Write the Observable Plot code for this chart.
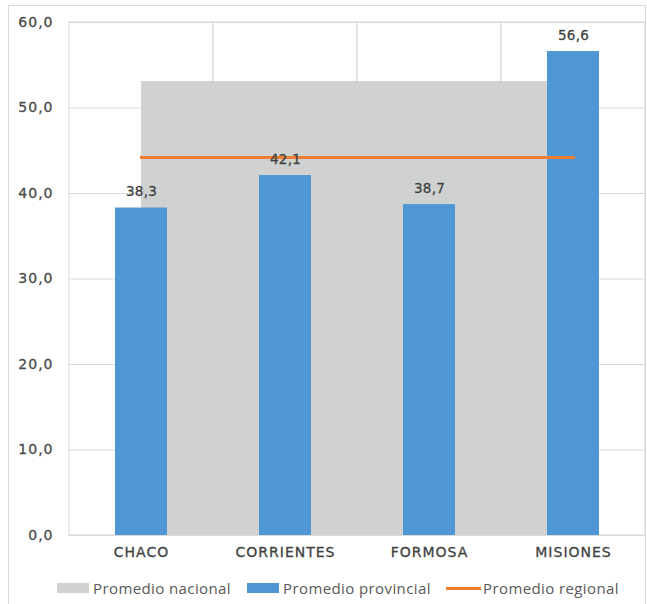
<!DOCTYPE html>
<html>
<head>
<meta charset="utf-8">
<script src="https://cdn.jsdelivr.net/npm/d3@7"></script>
<script src="https://cdn.jsdelivr.net/npm/@observablehq/plot@0.6"></script>
<style>
  body { margin: 0; background: #fff; }
  #wrap { position: relative; width: 647px; height: 604px; overflow: hidden; font-family: "Open Sans", "DejaVu Sans", sans-serif; }
  #frame { position: absolute; left: 8px; top: 5px; width: 638px; height: 620px; border: 1px solid #d9d9d9; box-sizing: border-box; }
  #chart { position: absolute; left: 0; top: 0; }
  #chart svg text { letter-spacing: 1px; stroke: #454545; stroke-width: 0.3px; }
  #chart svg g[aria-label="text"] text { letter-spacing: 0.2px; }
  #legend { position: absolute; left: 0; top: 577px; width: 647px; height: 22px; font-size: 15px; letter-spacing: 0.4px; color: #595959; white-space: nowrap; }
  .item { position: absolute; top: 0; display: flex; align-items: center; height: 22px; }
  .sw { width: 32px; height: 10px; margin-right: 4px; }
  .ln { width: 35px; height: 3px; margin-right: 2px; }
</style>
</head>
<body>
<div id="wrap">
  <div id="frame"></div>
  <div id="chart"></div>
  <div id="legend"></div>
</div>
<script>
const categories = ["CHACO", "CORRIENTES", "FORMOSA", "MISIONES"];
const provincial = [38.3, 42.1, 38.7, 56.6];
const nacional = [53.1, 53.1, 53.1, 53.1];
const regional = [44.2, 44.2, 44.2, 44.2];
const yTicks = [0, 10, 20, 30, 40, 50, 60];
const seriesNames = ["Promedio nacional", "Promedio provincial", "Promedio regional"];
const colors = { nacional: "#d0d1d1", provincial: "#4f97d3", regional: "#ed7d31" };

const rows = categories.map((c, i) => ({ cat: c, prov: provincial[i], nac: nacional[i], reg: regional[i] }));
const fmt = d => d.toFixed(1).replace(".", ",");

const chart = Plot.plot({
  width: 647,
  height: 570,
  marginLeft: 68,
  marginRight: 2,
  marginTop: 22,
  marginBottom: 35,
  style: { fontFamily: "'DejaVu Sans', sans-serif", background: "transparent" },
  x: { type: "band", domain: categories, padding: 0, label: null },
  y: { domain: [0, 60], label: null },
  marks: [
    Plot.gridY(yTicks, { stroke: "#d9d9d9", strokeOpacity: 1 }),
    Plot.cell(categories, { x: d => d, fill: "none", stroke: "#d9d9d9" }),
    Plot.areaY(rows, { x: "cat", y: "nac", fill: colors.nacional, curve: "linear" }),
    Plot.barY(rows, { x: "cat", y: "prov", fill: colors.provincial, insetLeft: 46, insetRight: 46 }),
    Plot.lineY(rows, { x: "cat", y: "reg", stroke: colors.regional, strokeWidth: 3, strokeLinecap: "square" }),
    Plot.text(rows, { x: "cat", y: "prov", text: d => fmt(d.prov), dy: -16, fontSize: 13.5, fill: "#404040" }),
    Plot.axisY(yTicks, { tickSize: 0, tickPadding: 15, tickFormat: fmt, fontSize: 14, fill: "#4d4d4d", label: null }),
    Plot.axisX({ tickSize: 0, tickPadding: 12, fontSize: 14, fill: "#404040", label: null })
  ]
});
document.getElementById("chart").appendChild(chart);

const legend = document.getElementById("legend");
const swatchColors = [colors.nacional, colors.provincial, colors.regional];
const legendLeft = [57, 247, 446];
seriesNames.forEach((name, i) => {
  const item = document.createElement("div");
  item.className = "item";
  item.style.left = legendLeft[i] + "px";
  const sw = document.createElement("div");
  sw.className = i === 2 ? "ln" : "sw";
  sw.style.background = swatchColors[i];
  const t = document.createElement("span");
  t.textContent = name;
  item.appendChild(sw);
  item.appendChild(t);
  legend.appendChild(item);
});
</script>
</body>
</html>
